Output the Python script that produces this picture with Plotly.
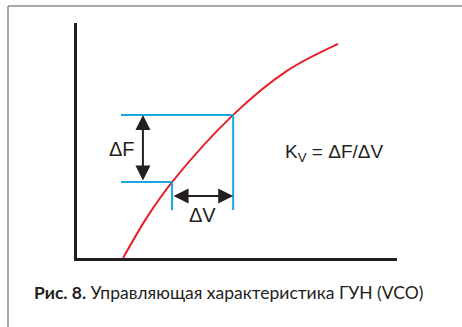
import plotly.graph_objects as go

# Curve: control voltage V vs frequency F (arbitrary units)
curve_v = [1.44, 2.19, 2.97, 4.88, 6.56, 8.16]
curve_f = [0.0, 1.74, 3.23, 6.09, 7.96, 9.11]

# Operating points
v1, v2 = 2.97, 4.88
f1, f2 = 3.23, 6.09

RED = "#e8202a"
BLUE = "#1aa7e0"
INK = "#231f20"

W, H = 462, 327
ML, MR, MT, MB = 77, 65, 23, 69
pw, ph = W - ML - MR, H - MT - MB

def px(x):
    return (x - ML) / pw

def py(y):
    return (H - MB - y) / ph

fig = go.Figure()
fig.add_trace(go.Scatter(x=curve_v, y=curve_f, mode="lines",
                         line=dict(color=RED, width=2, shape="spline", smoothing=1.0),
                         hoverinfo="skip", showlegend=False))

shapes = []
# blue construction lines
shapes.append(dict(type="line", xref="x", yref="y", x0=1.375, x1=v2, y0=f2, y1=f2,
                   line=dict(color=BLUE, width=2)))
shapes.append(dict(type="line", xref="x", yref="y", x0=1.375, x1=v1, y0=f1, y1=f1,
                   line=dict(color=BLUE, width=2)))
shapes.append(dict(type="line", xref="x", yref="y", x0=v1, x1=v1, y0=2.04, y1=f1,
                   line=dict(color=BLUE, width=2)))
shapes.append(dict(type="line", xref="x", yref="y", x0=v2, x1=v2, y0=2.04, y1=f2,
                   line=dict(color=BLUE, width=2)))
# outer frame (top and left)
shapes.append(dict(type="line", xref="paper", yref="paper", x0=px(8), x1=px(462), y0=py(6), y1=py(6),
                   line=dict(color="#8a8a8a", width=1.5)))
shapes.append(dict(type="line", xref="paper", yref="paper", x0=px(8), x1=px(8), y0=py(6), y1=py(330),
                   line=dict(color="#8a8a8a", width=1.5)))

annotations = [
    # dF arrow
    dict(x=2.06, y=f2, ax=2.06, ay=f1, xref="x", yref="y", axref="x", ayref="y",
         showarrow=True, arrowhead=2, arrowside="end+start", arrowsize=1.5, arrowwidth=2,
         arrowcolor=INK, text=""),
    # dV arrow
    dict(x=v2, y=2.64, ax=v1, ay=2.64, xref="x", yref="y", axref="x", ayref="y",
         showarrow=True, arrowhead=2, arrowside="end+start", arrowsize=1.5, arrowwidth=2,
         arrowcolor=INK, text=""),
    dict(x=1.88, y=4.62, xref="x", yref="y", text="ΔF", showarrow=False,
         xanchor="right", font=dict(family="Liberation Sans", size=20, color=INK)),
    dict(x=(v1 + v2) / 2, y=1.81, xref="x", yref="y", text="ΔV", showarrow=False,
         font=dict(family="Liberation Sans", size=20, color=INK)),
    dict(x=6.45, y=4.45, xref="x", yref="y", text="K<sub>V</sub> = ΔF/ΔV", showarrow=False,
         xanchor="left", font=dict(family="Liberation Sans", size=19, color=INK)),
    dict(x=px(32), y=py(292), xref="paper", yref="paper",
         text="<b>Рис. 8.</b> Управляющая характеристика ГУН (VCO)", showarrow=False,
         xanchor="left", yanchor="middle", font=dict(family="Lato", size=17.5, color=INK)),
]

fig.update_layout(
    width=W, height=H,
    margin=dict(l=ML, r=MR, t=MT, b=MB),
    paper_bgcolor="white", plot_bgcolor="white",
    shapes=shapes, annotations=annotations,
    xaxis=dict(range=[0, 10], showgrid=False, zeroline=False, showticklabels=False,
               ticks="", showline=True, linecolor=INK, linewidth=2.5, fixedrange=True),
    yaxis=dict(range=[0, 10], showgrid=False, zeroline=False, showticklabels=False,
               ticks="", showline=True, linecolor=INK, linewidth=2.5, fixedrange=True),
    showlegend=False,
)

fig.write_html("out.html", config=dict(displayModeBar=False),
               post_script="document.body.style.margin='0px';document.body.style.overflow='hidden';")
